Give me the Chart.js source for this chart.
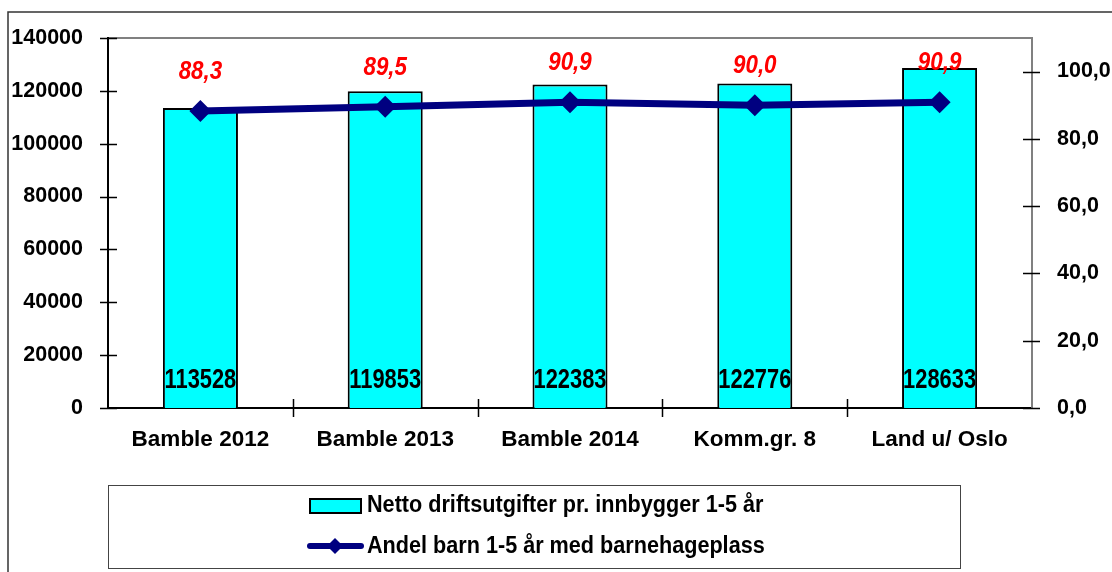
<!DOCTYPE html>
<html>
<head>
<meta charset="utf-8">
<script src="https://cdn.jsdelivr.net/npm/chart.js@4/dist/chart.umd.min.js"></script>
<style>
  html, body { margin: 0; padding: 0; background: #fff; }
  #wrap { width: 1112px; height: 572px; }
</style>
</head>
<body>
<div id="wrap"><canvas id="c"></canvas></div>
<script>
const categories = ['Bamble 2012', 'Bamble 2013', 'Bamble 2014', 'Komm.gr. 8', 'Land u/ Oslo'];
const nettoUtgifter = [113528, 119853, 122383, 122776, 128633];
const andelBarn = [88.3, 89.5, 90.9, 90.0, 90.9];
const leftTicks = [0, 20000, 40000, 60000, 80000, 100000, 120000, 140000];
const rightTicks = [0, 20, 40, 60, 80, 100];

const FONT = 'Liberation Sans, Arial, sans-serif';
const comma = v => v.toFixed(1).replace('.', ',');

// text squeezed sideways, like the narrow font of the original
function narrowText(ctx, text, x, y, squeeze) {
  ctx.save();
  ctx.translate(x, y);
  ctx.scale(squeeze, 1);
  ctx.fillText(text, 0, 0);
  ctx.restore();
}

// frame, crossing tick marks, value labels and boxed legend
const decor = {
  id: 'decor',
  beforeDraw(chart) {
    const ctx = chart.ctx, a = chart.chartArea;
    ctx.save();
    ctx.strokeStyle = '#333';
    ctx.lineWidth = 1.5;
    ctx.beginPath();
    ctx.moveTo(8, chart.height);
    ctx.lineTo(8, 12);
    ctx.lineTo(chart.width, 12);
    ctx.stroke();
    ctx.strokeStyle = '#808080';
    ctx.lineWidth = 2;
    ctx.beginPath();
    ctx.moveTo(a.left, a.top);
    ctx.lineTo(a.right, a.top);
    ctx.lineTo(a.right, a.bottom);
    ctx.stroke();
    ctx.restore();
  },
  afterDatasetsDraw(chart) {
    const ctx = chart.ctx;
    ctx.save();
    ctx.textAlign = 'center';
    ctx.textBaseline = 'middle';
    const barMeta = chart.getDatasetMeta(1);
    ctx.fillStyle = '#000';
    ctx.font = 'bold 27px ' + FONT;
    barMeta.data.forEach((bar, i) => {
      narrowText(ctx, String(nettoUtgifter[i]), bar.x, bar.base - 27, 0.81);
    });
    const lineMeta = chart.getDatasetMeta(0);
    ctx.fillStyle = '#ff0000';
    ctx.font = 'italic bold 26px ' + FONT;
    lineMeta.data.forEach((pt, i) => {
      narrowText(ctx, comma(andelBarn[i]), pt.x, pt.y - 39, 0.86);
    });
    ctx.restore();
  },
  afterDraw(chart) {
    const ctx = chart.ctx, a = chart.chartArea;
    const y = chart.scales.y, y1 = chart.scales.y1;
    ctx.save();
    ctx.strokeStyle = '#000';
    ctx.lineWidth = 1.5;
    ctx.beginPath();
    y.ticks.forEach(t => {
      const py = Math.round(y.getPixelForValue(t.value)) + 0.5;
      ctx.moveTo(a.left - 8, py); ctx.lineTo(a.left + 9, py);
    });
    y1.ticks.forEach(t => {
      const py = Math.round(y1.getPixelForValue(t.value)) + 0.5;
      ctx.moveTo(a.right - 9, py); ctx.lineTo(a.right + 8, py);
    });
    const step = (a.right - a.left) / categories.length;
    for (let k = 1; k < categories.length; k++) {
      const px = Math.round(a.left + k * step) + 0.5;
      ctx.moveTo(px, a.bottom - 9); ctx.lineTo(px, a.bottom + 9);
    }
    ctx.stroke();

    // legend
    ctx.strokeStyle = '#444';
    ctx.lineWidth = 1;
    ctx.strokeRect(108.5, 485.5, 852, 83);
    const bar = chart.data.datasets[1], line = chart.data.datasets[0];
    ctx.fillStyle = bar.backgroundColor;
    ctx.fillRect(310, 499, 51, 14);
    ctx.strokeStyle = bar.borderColor;
    ctx.lineWidth = 2;
    ctx.strokeRect(310, 499, 51, 14);
    ctx.strokeStyle = line.borderColor;
    ctx.lineWidth = 6;
    ctx.lineCap = 'round';
    ctx.beginPath();
    ctx.moveTo(310, 546); ctx.lineTo(361, 546);
    ctx.stroke();
    ctx.fillStyle = line.borderColor;
    ctx.beginPath();
    ctx.moveTo(335, 538); ctx.lineTo(343, 546); ctx.lineTo(335, 554); ctx.lineTo(327, 546);
    ctx.closePath();
    ctx.fill();
    ctx.fillStyle = '#000';
    ctx.font = 'bold 23px ' + FONT;
    ctx.textAlign = 'left';
    ctx.textBaseline = 'middle';
    narrowText(ctx, bar.label, 367, 506, 0.94);
    narrowText(ctx, line.label, 367, 547, 0.94);
    ctx.restore();
  }
};

new Chart(document.getElementById('c'), {
  data: {
    labels: categories,
    datasets: [
      {
        type: 'line',
        label: 'Andel barn 1-5 år med barnehageplass',
        data: andelBarn,
        yAxisID: 'y1',
        borderColor: '#000080',
        backgroundColor: '#000080',
        borderWidth: 7,
        pointStyle: 'rectRot',
        pointRadius: 11,
        pointBackgroundColor: '#000080',
        pointBorderWidth: 0,
        order: 0
      },
      {
        type: 'bar',
        label: 'Netto driftsutgifter pr. innbygger 1-5 år',
        data: nettoUtgifter,
        yAxisID: 'y',
        backgroundColor: '#00ffff',
        borderColor: '#000',
        borderWidth: 2,
        barPercentage: 0.406,
        categoryPercentage: 1,
        order: 1
      }
    ]
  },
  options: {
    responsive: true,
    maintainAspectRatio: false,
    animation: false,
    layout: { padding: { top: 37, left: 0, right: 0, bottom: 0 } },
    plugins: { legend: { display: false }, tooltip: { enabled: false } },
    scales: {
      x: {
        grid: { display: false, drawTicks: false },
        border: { display: true, color: '#000', width: 2 },
        ticks: { color: '#000', font: { family: FONT, size: 22.5, weight: 'bold' }, padding: 18, maxRotation: 0 },
        afterFit(s) { s.height = 164; }
      },
      y: {
        position: 'left',
        min: 0, max: 140000,
        afterBuildTicks(s) { s.ticks = leftTicks.map(v => ({ value: v })); },
        grid: { display: false, drawTicks: false },
        border: { display: true, color: '#000', width: 2 },
        ticks: { color: '#000', font: { family: FONT, size: 21.5, weight: 'bold' }, padding: 25, callback: v => String(v) },
        afterFit(s) { s.width = 108; }
      },
      y1: {
        position: 'right',
        min: 0, max: 110,
        afterBuildTicks(s) { s.ticks = rightTicks.map(v => ({ value: v })); },
        grid: { display: false, drawTicks: false },
        border: { display: true, color: '#808080', width: 2 },
        ticks: { color: '#000', font: { family: FONT, size: 21.5, weight: 'bold' }, padding: 25, callback: v => comma(v) },
        afterFit(s) { s.width = 80; }
      }
    }
  },
  plugins: [decor]
});
</script>
</body>
</html>
